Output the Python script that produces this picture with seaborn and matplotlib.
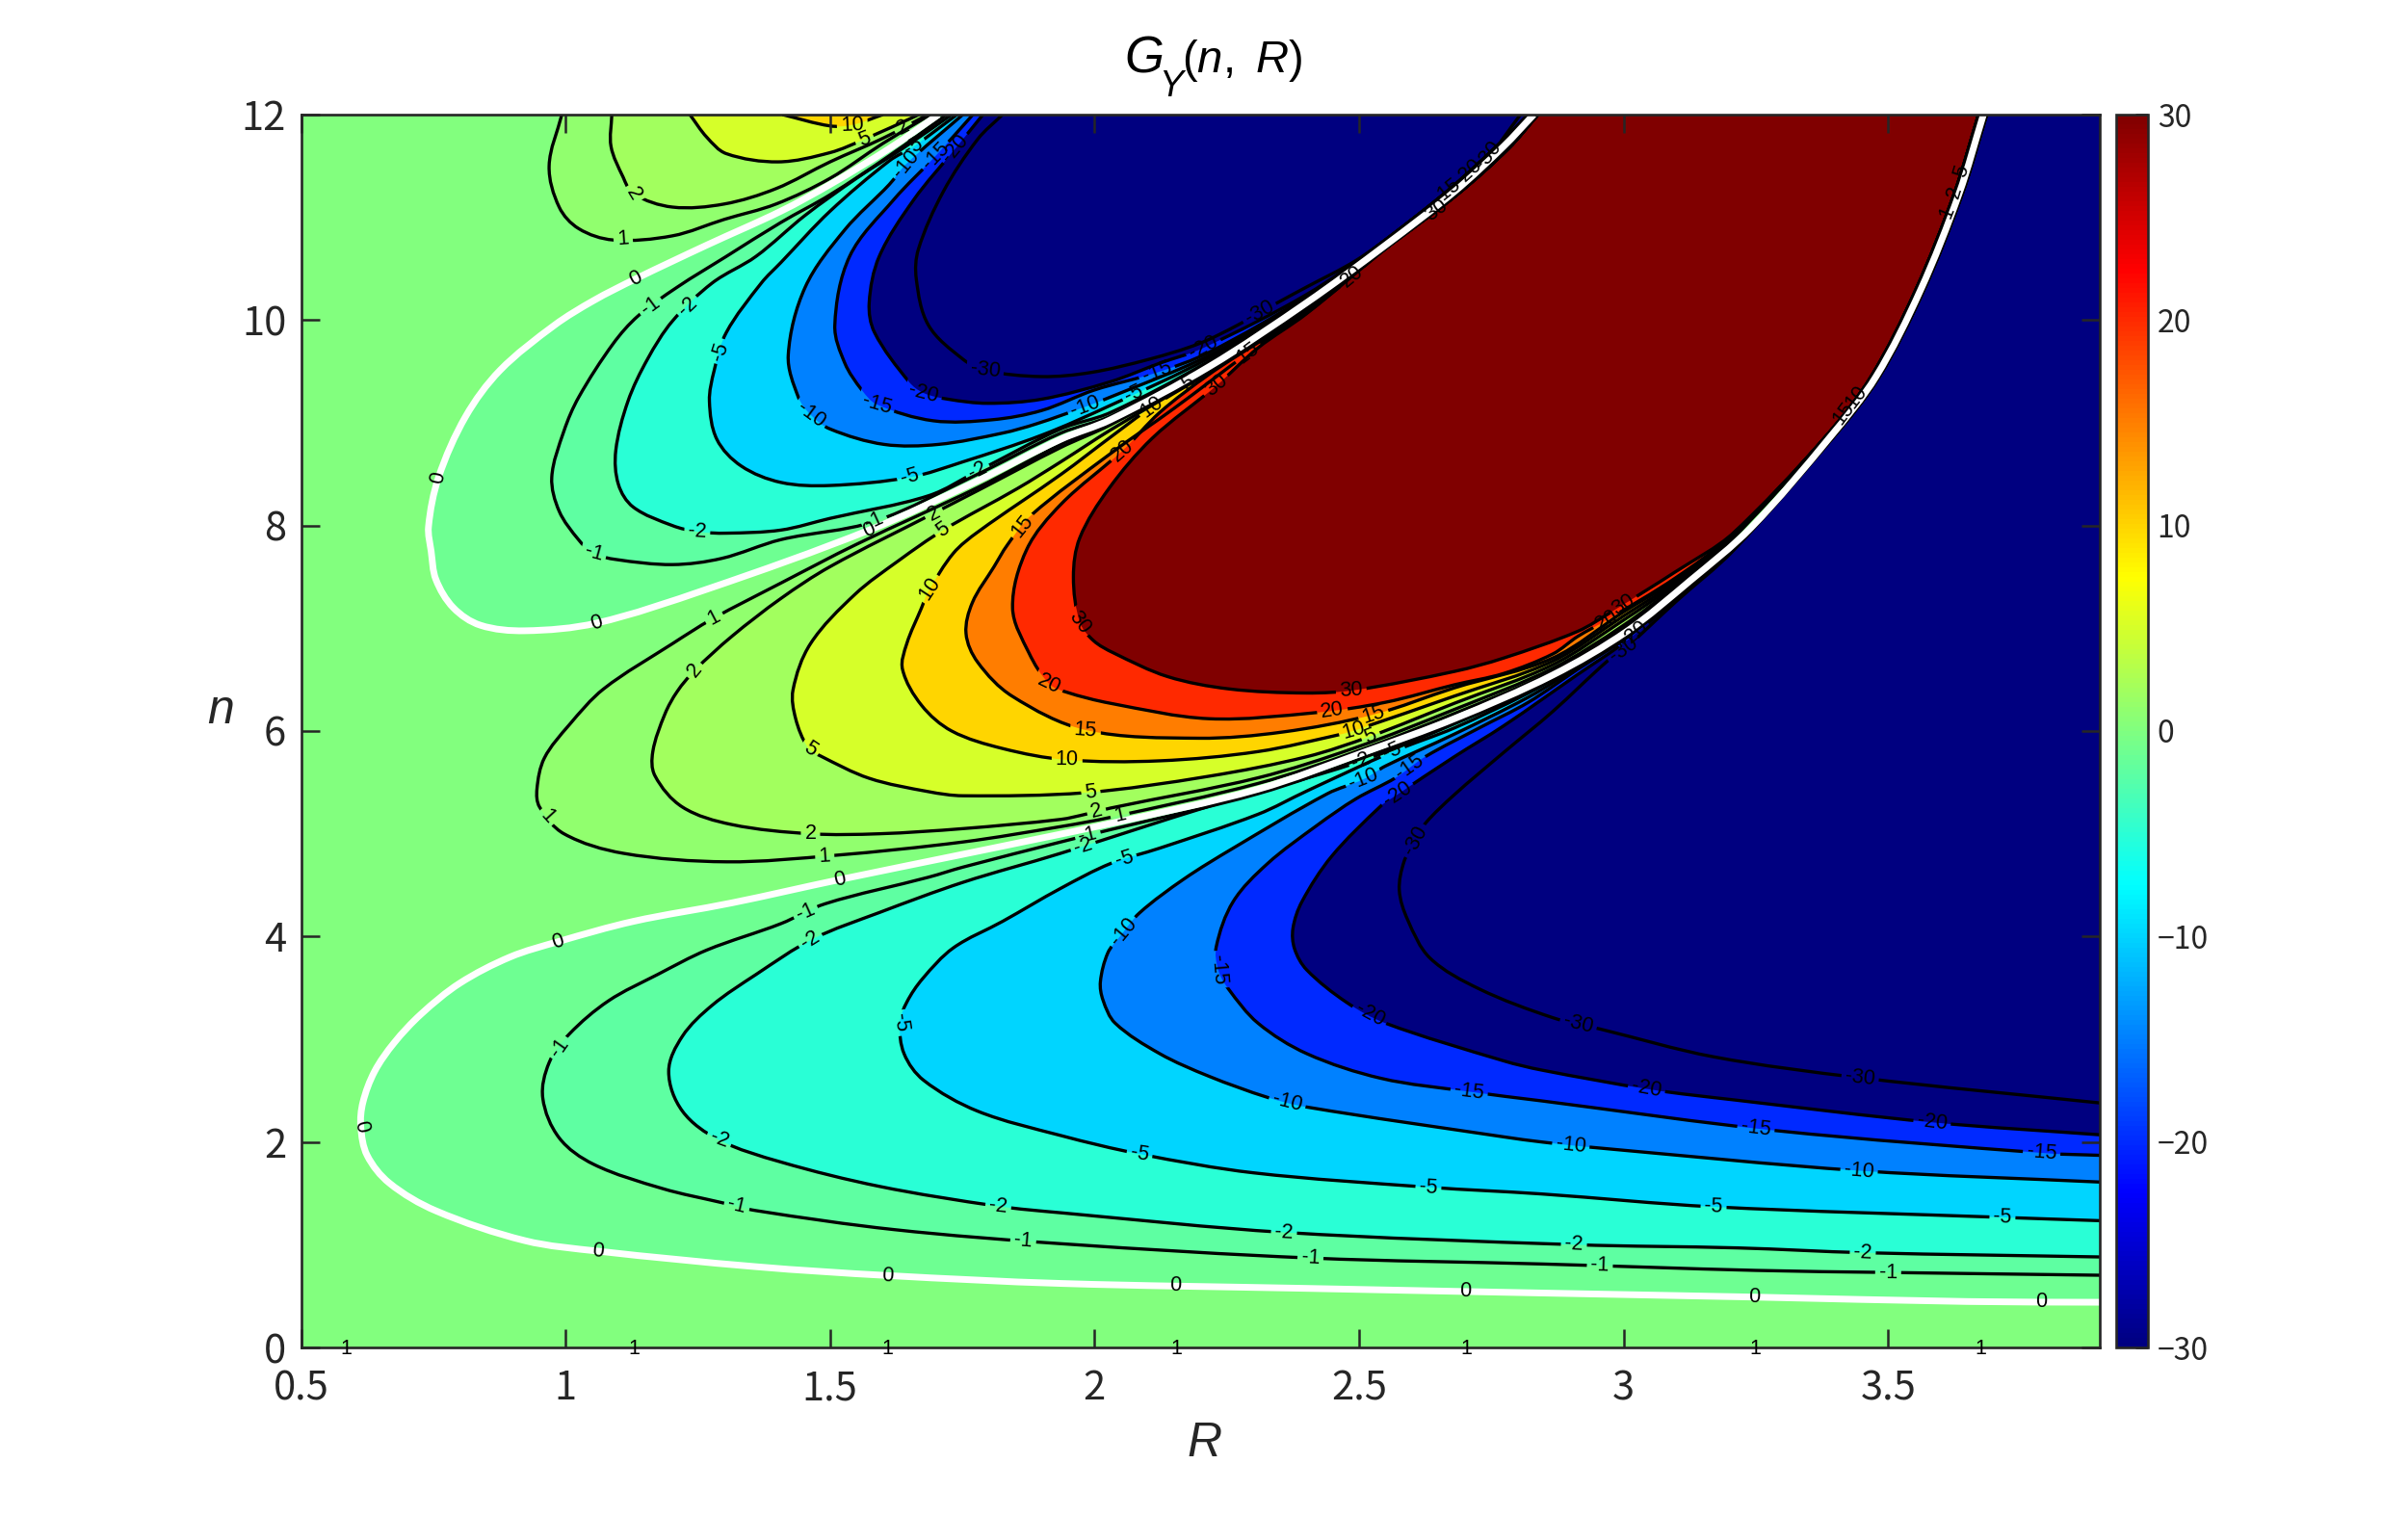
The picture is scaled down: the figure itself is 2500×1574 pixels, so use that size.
import numpy as np
import matplotlib
matplotlib.use("Agg")
import matplotlib.pyplot as plt
import seaborn as sns
from matplotlib.path import Path
from matplotlib.patches import PathPatch
from matplotlib.transforms import IdentityTransform
from matplotlib.colors import Normalize, LinearSegmentedColormap
from matplotlib.cm import ScalarMappable

# ---------- values: (R, n) along each contour of G_Y ----------
R_RANGE = [0.5, 3.9]
N_RANGE = [0, 12]
R_TICKS = [0.5, 1, 1.5, 2, 2.5, 3, 3.5]
R_TICK_LABELS = ["0.5", "1", "1.5", "2", "2.5", "3", "3.5"]
N_TICKS = [0, 2, 4, 6, 8, 10, 12]
CBAR_TICKS = [-30, -20, -10, 0, 10, 20, 30]
EDGE_ONE_LABEL_R = [0.585, 1.13, 1.609, 2.154, 2.703, 3.248, 3.675]

NEG_TAIL = [(3.396, 8.86), (3.483, 9.45), (3.567, 10.29), (3.64, 11.23), (3.686, 12)]
POS_A_TAIL = [(3.671, 12), (3.625, 11.23), (3.552, 10.29), (3.468, 9.45), (3.381, 8.86)]
POS_B_TAIL = [(2.556, 10.72), (2.687, 11.23), (2.782, 11.67), (2.838, 12)]
UP_TAIL = [(2.82, 12), (2.762, 11.7), (2.668, 11.26), (2.54, 10.74)]

low_0 = [(3.9, .44), (3.65, .447), (3.25, .49), (2.844, .53), (2.4, .575), (1.936, .623), (1.609, .70), (1.36, .786),
         (1.062, .937), (.923, 1.04), (.755, 1.33), (.667, 1.6), (.625, 1.87), (.613, 2.15), (.617, 2.385), (.639, 2.686),
         (.676, 2.965), (.727, 3.245), (.80, 3.545), (.895, 3.80), (.986, 3.95), (1.128, 4.147), (1.314, 4.327),
         (1.519, 4.555), (1.751, 4.80), (2.03, 5.10), (2.309, 5.434), (2.513, 5.80), (2.68, 6.12), (2.866, 6.545),
         (3.006, 6.97), (3.125, 7.46), (3.241, 7.98), (3.39, 8.86), (3.477, 9.45), (3.561, 10.29), (3.634, 11.23), (3.68, 12)]
low_m1 = [(3.9, .703), (3.5, .73), (3.25, .75), (2.845, .8125), (2.41, .87), (1.936, 1.01), (1.621, 1.147), (1.36, 1.332),
          (1.295, 1.41), (1.183, 1.547), (1.053, 1.783), (.988, 2.04), (.957, 2.428), (.969, 2.772), (1.007, 3.05),
          (1.081, 3.373), (1.174, 3.63), (1.267, 3.868), (1.407, 4.125), (1.491, 4.319), (1.686, 4.577), (1.751, 4.675),
          (1.936, 4.92), (2.03, 5.04), (2.309, 5.39), (2.513, 5.75), (2.68, 6.09), (2.866, 6.52), (3.006, 6.95),
          (3.099, 7.33), (3.208, 7.80)] + NEG_TAIL
low_m2 = [(3.9, .881), (3.456, .922), (3.215, .969), (2.909, 1.0), (2.358, 1.12), (1.936, 1.311), (1.817, 1.375),
          (1.593, 1.568), (1.407, 1.805), (1.29, 2.02), (1.221, 2.30), (1.195, 2.686), (1.221, 3.03), (1.277, 3.33),
          (1.36, 3.63), (1.467, 3.975), (1.593, 4.233), (1.751, 4.527), (1.936, 4.81), (2.216, 5.267), (2.494, 5.69),
          (2.68, 6.07), (2.866, 6.50), (3.006, 6.94), (3.099, 7.32), (3.208, 7.79)] + NEG_TAIL
low_m5 = [(3.9, 1.234), (3.716, 1.266), (3.169, 1.369), (2.845, 1.494), (2.63, 1.56), (2.3, 1.7), (2.085, 1.883),
          (1.936, 2.063), (1.779, 2.3), (1.677, 2.6), (1.64, 2.858), (1.632, 3.158), (1.645, 3.36), (1.675, 3.59), (1.733, 3.889),
          (1.826, 4.147), (1.936, 4.469), (2.03, 4.71), (2.123, 4.86), (2.309, 5.19), (2.401, 5.416), (2.564, 5.80),
          (2.68, 6.03), (2.82, 6.37), (2.913, 6.64), (3.006, 6.93), (3.099, 7.31), (3.208, 7.785)] + NEG_TAIL
low_m10 = [(3.9, 1.61), (3.447, 1.72), (2.942, 1.947), (2.845, 2.0), (2.773, 2.05), (2.401, 2.34), (2.327, 2.434),
           (2.216, 2.64), (2.123, 2.86), (2.039, 3.156), (2.016, 3.38), (2.011, 3.56), (2.025, 3.84), (2.048, 4.0),
           (2.085, 4.23), (2.169, 4.56), (2.262, 4.86), (2.44, 5.39), (2.508, 5.53), (2.55, 5.66), (2.68, 5.97),
           (2.82, 6.33), (2.913, 6.62), (3.006, 6.92), (3.099, 7.305), (3.208, 7.78)] + NEG_TAIL
low_m15 = [(3.9, 1.87), (3.8, 1.89), (3.289, 2.11), (2.845, 2.40), (2.708, 2.49), (2.541, 2.62), (2.401, 2.86),
           (2.309, 3.156), (2.253, 3.49), (2.234, 3.67), (2.23, 3.90), (2.262, 4.34), (2.327, 4.71), (2.42, 5.08),
           (2.494, 5.34), (2.569, 5.545), (2.625, 5.75), (2.727, 6.03), (2.82, 6.28), (2.913, 6.60), (3.006, 6.91),
           (3.099, 7.30), (3.208, 7.775)] + NEG_TAIL
low_m20 = [(3.9, 2.07), (3.586, 2.19), (3.208, 2.41), (3.052, 2.51), (2.845, 2.70), (2.773, 2.79), (2.55, 3.156),
           (2.476, 3.36), (2.401, 3.675), (2.378, 3.88), (2.375, 4.08), (2.392, 4.34), (2.448, 4.78), (2.541, 5.27), (2.569, 5.37),
           (2.68, 5.75), (2.773, 6.05), (2.913, 6.55), (3.006, 6.88), (3.099, 7.29), (3.208, 7.77)] + NEG_TAIL
low_m30 = [(3.9, 2.38), (3.447, 2.625), (3.169, 2.83), (2.955, 3.10), (2.866, 3.21), (2.727, 3.49), (2.634, 3.79),
           (2.592, 4.16), (2.576, 4.45), (2.585, 4.73), (2.606, 4.93), (2.625, 5.10), (2.68, 5.38), (2.773, 5.79),
           (2.866, 6.19), (2.968, 6.675), (3.0, 6.79), (3.099, 7.26), (3.208, 7.76)] + NEG_TAIL

mid_1 = POS_A_TAIL + [(3.2, 7.84), (3.098, 7.39), (3.0, 7.0), (2.866, 6.58), (2.68, 6.17), (2.494, 5.80), (2.309, 5.49),
                      (2.03, 5.16), (1.936, 5.07), (1.751, 4.92), (1.509, 4.79), (1.304, 4.727), (1.109, 4.81), (.997, 5.0),
                      (.951, 5.26), (.946, 5.436), (.96, 5.737), (1.007, 6.06), (1.072, 6.41), (1.202, 6.85), (1.277, 7.09),
                      (1.407, 7.44), (1.551, 7.82), (1.779, 8.37), (1.936, 8.79), (2.03, 9.0), (2.216, 9.52), (2.401, 10.14)] + POS_B_TAIL
mid_2 = POS_A_TAIL + [(3.2, 7.85), (3.098, 7.41), (3.0, 7.03), (2.866, 6.61), (2.68, 6.21), (2.494, 5.84), (2.309, 5.545),
                      (2.03, 5.25), (1.983, 5.19), (1.936, 5.14), (1.751, 5.05), (1.593, 5.0), (1.463, 5.0), (1.314, 5.09),
                      (1.221, 5.26), (1.169, 5.565), (1.165, 5.80), (1.188, 6.167), (1.211, 6.384), (1.244, 6.59), (1.314, 6.92),
                      (1.407, 7.29), (1.5, 7.60), (1.696, 8.12), (1.779, 8.34), (1.936, 8.76), (2.03, 8.98), (2.216, 9.51), (2.401, 10.13)] + POS_B_TAIL
mid_5 = POS_A_TAIL + [(3.2, 7.86), (3.098, 7.43), (3.0, 7.08), (2.866, 6.645), (2.68, 6.27), (2.522, 5.95), (2.401, 5.75),
                      (2.216, 5.56), (1.983, 5.40), (1.751, 5.37), (1.686, 5.41), (1.574, 5.54), (1.481, 5.76), (1.458, 5.84),
                      (1.435, 6.12), (1.43, 6.40), (1.463, 6.85), (1.547, 7.33), (1.63, 7.66), (1.714, 7.956), (1.854, 8.36),
                      (1.936, 8.62), (2.03, 8.93), (2.216, 9.50), (2.401, 10.12)] + POS_B_TAIL
mid_10 = POS_A_TAIL + [(3.2, 7.87), (3.098, 7.45), (3.0, 7.12), (2.866, 6.68), (2.68, 6.34), (2.494, 6.01), (2.467, 5.97),
                       (2.309, 5.80), (2.123, 5.71), (1.946, 5.72), (1.826, 5.83), (1.73, 6.0), (1.673, 6.25), (1.637, 6.6),
                       (1.645, 6.85), (1.673, 7.2), (1.686, 7.36), (1.733, 7.73), (1.78, 7.94), (1.937, 8.5), (2.03, 8.86),
                       (2.109, 9.157), (2.216, 9.49), (2.401, 10.11)] + POS_B_TAIL
mid_15 = POS_A_TAIL + [(3.2, 7.88), (3.098, 7.47), (3.0, 7.16), (2.866, 6.71), (2.68, 6.42), (2.527, 6.16), (2.355, 5.99),
                       (2.197, 5.93), (1.983, 6.01), (1.844, 6.34), (1.779, 6.67), (1.757, 6.95), (1.769, 7.25), (1.81, 7.6),
                       (1.835, 7.81), (1.88, 8.10), (2.03, 8.70), (2.15, 9.14), (2.29, 9.68), (2.401, 10.09)] + POS_B_TAIL
mid_20 = POS_A_TAIL + [(3.2, 7.89), (3.098, 7.49), (2.968, 7.08), (2.913, 6.92), (2.866, 6.75), (2.773, 6.56), (2.68, 6.45),
                       (2.55, 6.28), (2.42, 6.18), (2.216, 6.12), (2.03, 6.27), (1.946, 6.38), (1.914, 6.46), (1.876, 6.76), (1.845, 7.2),
                       (1.872, 7.77), (1.937, 8.21), (2.053, 8.73), (2.123, 9.10), (2.216, 9.47), (2.309, 9.78),
                       (2.401, 10.07)] + POS_B_TAIL
mid_30 = POS_A_TAIL + [(3.208, 7.93), (3.098, 7.55), (2.977, 7.16), (2.913, 6.97), (2.773, 6.71), (2.68, 6.58), (2.494, 6.40),
                       (2.4, 6.37), (2.254, 6.41), (2.138, 6.53), (2.036, 6.76), (1.998, 6.88), (1.972, 7.06), (1.96, 7.5), (1.972, 7.88),
                       (2.027, 8.36), (2.109, 8.85), (2.23, 9.36), (2.309, 9.73), (2.40, 10.06)] + POS_B_TAIL

up_0 = [(2.83, 12), (2.773, 11.69), (2.68, 11.25), (2.55, 10.73), (2.401, 10.17), (2.216, 9.545), (2.03, 9.03), (1.936, 8.84),
        (1.779, 8.436), (1.574, 7.956), (1.267, 7.38), (1.058, 7.05), (.923, 6.976), (.839, 7.03), (.788, 7.2), (.755, 7.475),
        (.746, 7.75), (.741, 7.99), (.76, 8.47), (.811, 9.06), (.876, 9.51), (.979, 9.95), (1.053, 10.19), (1.132, 10.40),
        (1.267, 10.73), (1.407, 11.06), (1.5, 11.32), (1.612, 11.67), (1.705, 12)]
up_m1 = UP_TAIL + [(2.401, 10.19), (2.216, 9.58), (2.03, 9.065), (1.936, 8.90),
         (1.779, 8.50), (1.584, 8.04), (1.407, 7.863), (1.295, 7.68), (1.202, 7.62), (1.095, 7.67), (1.053, 7.73), (1.025, 7.86),
         (.988, 8.14), (.974, 8.47), (.997, 8.92), (1.025, 9.25), (1.09, 9.77), (1.137, 10.04), (1.211, 10.32), (1.304, 10.62),
         (1.407, 10.95), (1.5, 11.22), (1.612, 11.6), (1.72, 12)]
up_m2 = UP_TAIL + [(2.401, 10.2), (2.216, 9.6), (2.03, 9.10), (1.936, 8.94),
         (1.779, 8.53), (1.686, 8.29), (1.5, 8.07), (1.407, 7.956), (1.304, 7.926), (1.249, 7.94), (1.202, 8.0), (1.128, 8.18),
         (1.1, 8.4), (1.095, 8.73), (1.118, 9.21), (1.155, 9.62), (1.202, 9.99), (1.277, 10.36), (1.36, 10.62), (1.453, 11.02),
         (1.55, 11.38), (1.64, 11.68), (1.73, 12)]
up_m5 = UP_TAIL + [(2.401, 10.21), (2.216, 9.63), (2.03, 9.17), (1.9, 8.88),
         (1.751, 8.62), (1.651, 8.47), (1.5, 8.39), (1.407, 8.42), (1.332, 8.58), (1.286, 8.84), (1.272, 9.21), (1.281, 9.51),
         (1.304, 9.88), (1.37, 10.36), (1.407, 10.56), (1.5, 11.06), (1.612, 11.55), (1.658, 11.69), (1.74, 12)]
up_m10 = UP_TAIL + [(2.401, 10.22), (2.216, 9.655), (2.02, 9.23), (1.983, 9.157),
          (1.89, 8.99), (1.826, 8.90), (1.705, 8.79), (1.602, 8.79), (1.5, 8.94), (1.463, 9.08), (1.44, 9.25), (1.421, 9.66),
          (1.453, 10.32), (1.528, 10.88), (1.612, 11.32), (1.644, 11.52), (1.751, 12)]
up_m15 = UP_TAIL + [(2.401, 10.23), (2.216, 9.685), (2.118, 9.49), (2.0, 9.32),
          (1.9, 9.12), (1.807, 9.03), (1.695, 9.02), (1.588, 9.18), (1.56, 9.32), (1.528, 9.58), (1.509, 9.95), (1.537, 10.62),
          (1.62, 11.17), (1.70, 11.6), (1.77, 12)]
up_m20 = UP_TAIL + [(2.401, 10.25), (2.206, 9.73), (2.123, 9.58), (2.03, 9.40),
          (1.9, 9.23), (1.798, 9.19), (1.723, 9.23), (1.677, 9.29), (1.649, 9.40), (1.584, 9.88), (1.574, 10.17), (1.593, 10.62),
          (1.658, 11.17), (1.737, 11.67), (1.789, 12)]
up_m30 = [(2.805, 12), (2.745, 11.6), (2.655, 11.2), (2.575, 10.88), (2.494, 10.58), (2.40, 10.32), (2.346, 10.17), (2.27, 9.95),
          (2.197, 9.77), (2.104, 9.62), (1.993, 9.49), (1.9, 9.45), (1.793, 9.51), (1.751, 9.62), (1.686, 9.95), (1.663, 10.40),
          (1.667, 10.69), (1.714, 11.25), (1.779, 11.76), (1.826, 12)]

top_1 = [(.993, 12), (.969, 11.5), (.988, 11.1), (1.025, 10.89), (1.09, 10.78), (1.202, 10.82), (1.30, 10.98), (1.398, 11.13),
         (1.5, 11.38), (1.6, 11.72), (1.69, 12)]
top_2 = [(1.0875, 12), (1.086, 11.69), (1.109, 11.39), (1.128, 11.23), (1.202, 11.1), (1.30, 11.13), (1.398, 11.28), (1.5, 11.54),
         (1.6, 11.77), (1.685, 12)]
top_5 = [(1.235, 12), (1.267, 11.78), (1.304, 11.62), (1.402, 11.54), (1.5, 11.63), (1.565, 11.76), (1.668, 12)]
top_10 = [(1.41, 12), (1.5, 11.89), (1.542, 11.9), (1.6, 12)]

# label spots (R, n) on each contour
lab_low_0 = [(1.062, .937), (1.609, .70), (2.152, .59), (2.70, .52), (3.247, .48), (3.79, .44), (.613, 2.15), (.986, 3.95), (1.519, 4.555)]
lab_low_m1 = [(1.323, 1.36), (1.865, 1.03), (2.408, .87), (2.955, .79), (3.5, .73), (.993, 2.9), (1.453, 4.245), (1.988, 4.97)]
lab_low_m2 = [(1.29, 2.02), (1.818, 1.375), (2.358, 1.12), (2.906, 1.0), (3.452, .92), (1.463, 3.96), (1.979, 4.87), (2.504, 5.71)]
lab_low_m5 = [(1.632, 3.158), (2.085, 1.883), (2.631, 1.56), (3.17, 1.37), (3.716, 1.266), (2.056, 4.75), (2.564, 5.79)]
lab_low_m10 = [(2.058, 4.03), (2.364, 2.38), (2.90, 1.96), (3.445, 1.72), (2.508, 5.53)]
lab_low_m15 = [(2.234, 3.68), (2.708, 2.49), (3.25, 2.13), (3.79, 1.89), (2.597, 5.64)]
lab_low_m20 = [(2.518, 3.22), (3.043, 2.51), (3.583, 2.19), (2.573, 5.38), (3.02, 6.93)]
lab_low_m30 = [(2.606, 4.93), (2.914, 3.14), (3.447, 2.625), (3.0, 6.79)]
lab_mid_1 = [(.96, 5.14), (1.49, 4.78), (1.281, 7.1), (2.048, 5.18), (3.61, 11.05)]
lab_mid_2 = [(1.463, 5.0), (1.244, 6.59), (1.696, 8.12), (2.004, 5.21), (3.625, 11.25)]
lab_mid_5 = [(1.463, 5.83), (1.714, 7.956), (1.993, 5.40), (2.522, 5.95), (2.174, 9.4), (3.64, 11.45)]
lab_mid_10 = [(1.691, 7.38), (1.948, 5.72), (2.49, 6.01), (2.109, 9.157), (3.44, 9.25)]
lab_mid_15 = [(1.863, 8.0), (1.983, 6.01), (2.527, 6.16), (2.29, 9.68), (3.42, 9.08)]
lab_mid_20 = [(1.914, 6.46), (2.053, 8.73), (2.45, 6.18), (2.968, 7.08), (2.49, 10.4)]
lab_mid_30 = [(1.972, 7.06), (2.23, 9.36), (2.485, 6.40), (3.0, 7.23), (2.65, 11.05)]
lab_up_0 = [(.76, 8.47), (1.058, 7.05), (1.132, 10.40), (1.574, 7.956)]
lab_up_m1 = [(1.053, 7.73), (1.16, 10.14), (1.584, 8.04)]
lab_up_m2 = [(1.249, 7.94), (1.23, 10.14), (1.779, 8.53)]
lab_up_m5 = [(1.295, 9.69), (1.651, 8.47), (1.658, 11.69), (2.076, 9.27)]
lab_up_m10 = [(1.463, 9.08), (1.644, 11.52), (1.983, 9.157)]
lab_up_m15 = [(1.588, 9.18), (1.70, 11.6), (2.118, 9.49), (2.66, 11.28)]
lab_up_m20 = [(1.677, 9.29), (1.737, 11.67), (2.206, 9.73), (2.70, 11.46)]
lab_up_m30 = [(1.793, 9.51), (2.313, 10.06), (2.745, 11.6)]
lab_top_1 = [(1.109, 10.78)]
lab_top_2 = [(1.128, 11.23), (1.64, 11.86)]
lab_top_5 = [(1.565, 11.76)]
lab_top_10 = [(1.542, 11.9)]

# painter's order: outer region first, nested regions after it
REGIONS = [
    (0, low_0, lab_low_0, True), (-1, low_m1, lab_low_m1, True), (-2, low_m2, lab_low_m2, True), (-5, low_m5, lab_low_m5, True),
    (-10, low_m10, lab_low_m10, True), (-15, low_m15, lab_low_m15, True), (-20, low_m20, lab_low_m20, True), (-30, low_m30, lab_low_m30, True),
    (1, mid_1, lab_mid_1, False), (2, mid_2, lab_mid_2, False), (5, mid_5, lab_mid_5, False), (10, mid_10, lab_mid_10, False),
    (15, mid_15, lab_mid_15, False), (20, mid_20, lab_mid_20, False), (30, mid_30, lab_mid_30, False),
    (0, up_0, lab_up_0, False), (-1, up_m1, lab_up_m1, False), (-2, up_m2, lab_up_m2, False), (-5, up_m5, lab_up_m5, False),
    (-10, up_m10, lab_up_m10, False), (-15, up_m15, lab_up_m15, False), (-20, up_m20, lab_up_m20, False), (-30, up_m30, lab_up_m30, False),
    (1, top_1, lab_top_1, False), (2, top_2, lab_top_2, False), (5, top_5, lab_top_5, False), (10, top_10, lab_top_10, False),
]

# band colour: jet at the band's lower level (as MATLAB's contourf); band of level v
BAND_LOWER = {0: -1, -1: -2, -2: -5, -5: -10, -10: -15, -15: -20, -20: -30, -30: -30, 1: 1, 2: 2, 5: 5, 10: 10, 15: 15, 20: 20, 30: 30}

# ---------- style ----------
sns.set_theme(style="white")
plt.rcParams["font.family"] = ["Noto Sans CJK JP", "DejaVu Sans"]
plt.rcParams["mathtext.fontset"] = "custom"
plt.rcParams["mathtext.rm"] = "Liberation Sans"
plt.rcParams["mathtext.it"] = "Liberation Sans:italic"
INK = "#262626"
W, H = 2500, 1574
# MATLAB's jet, whose knots differ a little from matplotlib's
jet = LinearSegmentedColormap("matlab_jet", {
    "red": [(0, 0, 0), (.375, 0, 0), (.625, 1, 1), (.875, 1, 1), (1, .5, .5)],
    "green": [(0, 0, 0), (.125, 0, 0), (.375, 1, 1), (.625, 1, 1), (.875, 0, 0), (1, 0, 0)],
    "blue": [(0, .5, .5), (.125, 1, 1), (.375, 1, 1), (.625, 0, 0), (1, 0, 0)],
}, N=256)
norm = Normalize(-30, 30)

fig = plt.figure(figsize=(W / 100, H / 100), dpi=100, facecolor="white")
ax = fig.add_axes([312.5 / W, 1 - 1399 / H, (2180 - 312.5) / W, (1399 - 119) / H])
cax = fig.add_axes([2197 / W, 1 - 1399 / H, 33 / W, (1399 - 119) / H])
ax.set_xlim(R_RANGE)
ax.set_ylim(N_RANGE)
ax.set_facecolor(jet(norm(0)))


def bezier(points):
    """Smooth curve through the read points: Bezier segments of the path itself."""
    pts = np.asarray(points, float)
    px = ax.transData.transform(pts)
    t = np.zeros_like(px)
    t[1:-1] = px[2:] - px[:-2]
    t[0] = px[1] - px[0]
    t[-1] = px[-1] - px[-2]
    t /= np.maximum(np.linalg.norm(t, axis=1, keepdims=True), 1e-9)
    verts, codes = [px[0]], [Path.MOVETO]
    for i in range(len(px) - 1):
        d = np.linalg.norm(px[i + 1] - px[i]) / 3
        verts += [px[i] + t[i] * d, px[i + 1] - t[i + 1] * d, px[i + 1]]
        codes += [Path.CURVE4] * 3
    return np.array(verts), codes


def to_data(v):
    return ax.transData.inverted().transform(v)


line_specs = []
for level, pts, labels, close_right in REGIONS:
    v, c = bezier(pts)
    vd = to_data(v)
    fv, fc = list(vd), list(c)
    if close_right:
        fv.append(np.array([R_RANGE[1], N_RANGE[1]]))
        fc.append(Path.LINETO)
    fv.append(vd[0])
    fc.append(Path.CLOSEPOLY)
    ax.add_patch(PathPatch(Path(np.array(fv), fc), fc=jet(norm(BAND_LOWER[level])), ec="none", lw=0, zorder=1))
    line_specs.append((level, pts, labels, vd, c))

for level, pts, labels, vd, c in line_specs:
    px = ax.transData.transform(np.asarray(pts, float))
    holes_v, holes_c = [(0, 0), (W, 0), (W, H), (0, H), (0, 0)], [Path.MOVETO, Path.LINETO, Path.LINETO, Path.LINETO, Path.CLOSEPOLY]
    for lab in labels:
        q = ax.transData.transform(lab)
        a, b = px[:-1], px[1:]
        ab = b - a
        s = np.clip(np.sum((q - a) * ab, axis=1) / np.maximum(np.sum(ab * ab, axis=1), 1e-9), 0, 1)
        foot = a + (ab.T * s).T
        i = np.argmin(np.linalg.norm(foot - q, axis=1))
        cen = foot[i]
        ang = np.degrees(np.arctan2(ab[i, 1], ab[i, 0]))
        if ang > 90:
            ang -= 180
        if ang < -90:
            ang += 180
        txt = str(level)
        ax.text(*to_data(cen), txt, rotation=ang, rotation_mode="anchor", ha="center", va="center",
                fontsize=15.5, family="Liberation Sans", color="black", zorder=4, clip_on=True)
        if level != 0:
            half = (len(txt.replace("-", "")) * 12 + (7 if "-" in txt else 0)) / 2 + 4
            u = np.array([np.cos(np.radians(ang)), np.sin(np.radians(ang))])
            w = np.array([-u[1], u[0]])
            corners = [cen - u * half - w * 14, cen - u * half + w * 14, cen + u * half + w * 14, cen + u * half - w * 14]
            holes_v += [tuple(p) for p in corners] + [tuple(corners[0])]
            holes_c += [Path.MOVETO, Path.LINETO, Path.LINETO, Path.LINETO, Path.CLOSEPOLY]
    p = PathPatch(Path(vd, c), fill=False, ec="white" if level == 0 else "black",
                  lw=5.0 if level == 0 else 2.4, capstyle="butt", joinstyle="round", zorder=2.2 if level == 0 else 2)
    ax.add_patch(p)
    p.set_clip_path(Path(holes_v, holes_c), IdentityTransform())

for r in EDGE_ONE_LABEL_R:
    ax.text(r, -0.015, "1", ha="center", va="center", fontsize=15.5, family="Liberation Sans",
            color="black", zorder=4, clip_on=False)

# ---------- axes ----------
ax.set_xticks(R_TICKS, R_TICK_LABELS)
ax.set_yticks(N_TICKS)
ax.tick_params(axis="both", which="major", direction="in", top=True, right=True, bottom=True, left=True,
               length=13.7, width=1.8, color=INK, labelcolor=INK, labelsize=30)
ax.tick_params(axis="x", pad=16)
ax.tick_params(axis="y", pad=11)
for spine in ax.spines.values():
    spine.set_linewidth(1.9)
    spine.set_edgecolor(INK)
    spine.set_zorder(3)
ax.set_axisbelow(False)

cb = fig.colorbar(ScalarMappable(norm=norm, cmap=jet), cax=cax)
cb.set_ticks(CBAR_TICKS)
cb.set_ticklabels([str(v).replace("-", "\u2212") for v in CBAR_TICKS])
cax.tick_params(axis="y", direction="in", right=True, left=False, length=9.5, width=1.8, color=INK, labelcolor=INK,
                labelsize=23, pad=7)
for spine in cax.spines.values():
    spine.set_linewidth(1.9)
    spine.set_edgecolor(INK)
cb.outline.set_linewidth(1.9)
cb.outline.set_edgecolor(INK)

# title G_Y(n, R): subscript sits lower than mathtext would put it
fig.text(1167 / W, 1 - 75 / H, "G", fontsize=38, family="Liberation Sans", style="italic", ha="left", va="baseline", color="black")
fig.text(1203 / W, 1 - 100 / H, "Y", fontsize=27, family="Liberation Sans", style="italic", ha="left", va="baseline", color="black")
fig.text(1227 / W, 1 - 75 / H, r"$(n,\ R)$", fontsize=34, ha="left", va="baseline", color="black")
fig.text(1251 / W, 1 - 1512 / H, "R", fontsize=36, family="Liberation Sans", style="italic", ha="center", va="baseline", color=INK)
fig.text(229 / W, 1 - 751 / H, "n", fontsize=36, family="Liberation Sans", style="italic", ha="center", va="baseline", color=INK)

fig.savefig("out.png", dpi=100, facecolor="white")
